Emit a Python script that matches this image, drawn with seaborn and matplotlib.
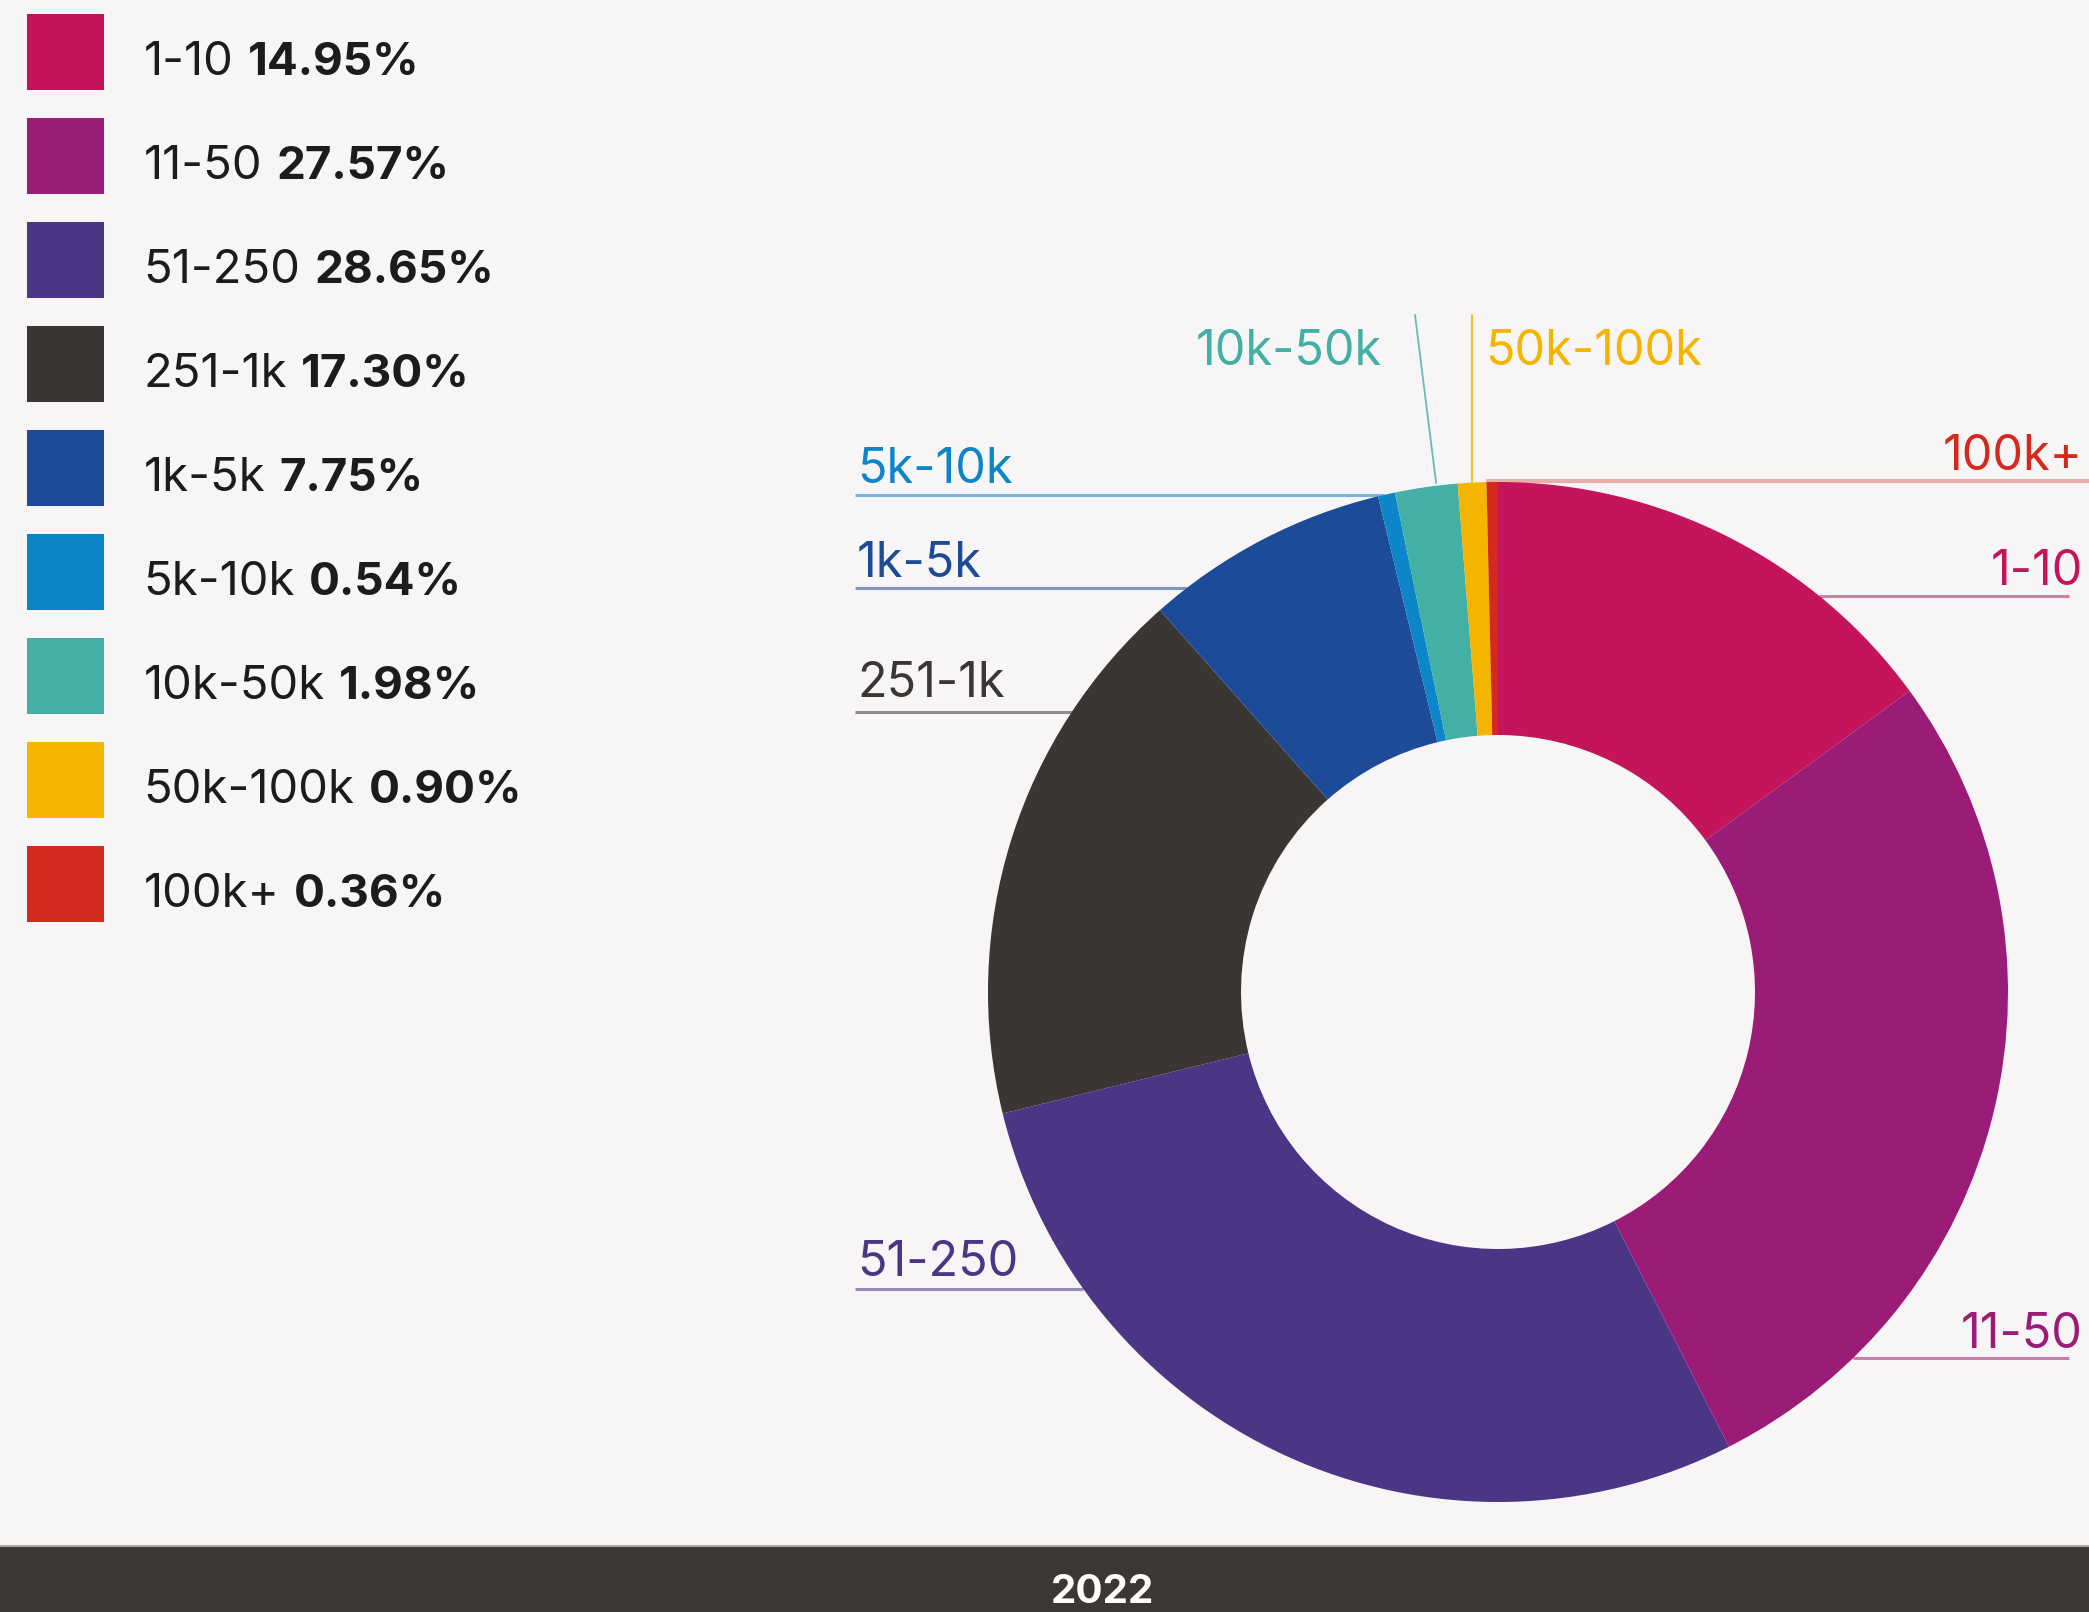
import matplotlib
matplotlib.use("Agg")
import numpy as np
import matplotlib.pyplot as plt
from matplotlib.patches import Rectangle
import seaborn as sns

# ---- data -----------------------------------------------------------------
categories = ["1-10", "11-50", "51-250", "251-1k", "1k-5k",
              "5k-10k", "10k-50k", "50k-100k", "100k+"]
shares = [14.95, 27.57, 28.65, 17.30, 7.75, 0.54, 1.98, 0.90, 0.36]
year_label = "2022"

slice_colors = ["#c4145c", "#9b1c77", "#4b3585", "#3a3633", "#1d4b97",
                "#0d86c9", "#43afa5", "#f4b400", "#d42a1e"]

# ---- style ----------------------------------------------------------------
sns.set_theme(style="white")
plt.rcParams["font.family"] = ["Inter", "DejaVu Sans"]
palette = sns.color_palette(slice_colors)

BG = "#f7f5f6"
INK = "#1e1b1c"
W, H = 2089, 1612
FS = 35          # ring labels
FS_LEG = 34      # legend range text
FS_LEG_B = 33    # legend share text (bold)

fig = plt.figure(figsize=(W / 100, H / 100), dpi=100, facecolor=BG)
ax = fig.add_axes([0, 0, 1, 1])
ax.set_facecolor(BG)


def yu(y_down):
    """Convert a top-down pixel row into the upward axis coordinate."""
    return H - y_down


# ---- donut ----------------------------------------------------------------
CX, CY = 1498, yu(992)
R_OUT, R_IN = 510, 257
wedges, _ = ax.pie(shares, colors=palette, startangle=90, counterclock=False,
                   center=(CX, CY), radius=R_OUT,
                   wedgeprops=dict(width=R_OUT - R_IN, linewidth=0))
ax.set_xlim(0, W)
ax.set_ylim(0, H)
ax.set_aspect("equal")
ax.axis("off")


def circle_x(y_up, side):
    dy = y_up - CY
    dx = np.sqrt(max(R_OUT ** 2 - dy ** 2, 0.0))
    return CX - dx if side == "left" else CX + dx


def wedge_point(idx):
    w = wedges[idx]
    mid = np.deg2rad((w.theta1 + w.theta2) / 2)
    return CX + R_OUT * np.cos(mid), CY + R_OUT * np.sin(mid)


LW = 2.2
LALPHA = 0.55

# horizontal leaders: (category, side, text baseline row, leader row, outer x)
horizontal = [
    ("5k-10k", "left", 483, 495, 857),
    ("1k-5k", "left", 577, 588, 857),
    ("251-1k", "left", 697, 712, 857),
    ("51-250", "left", 1276, 1289, 857),
    ("1-10", "right", 585, 596, 2083),
    ("11-50", "right", 1348, 1358, 2083),
]
for cat, side, base, row, xo in horizontal:
    i = categories.index(cat)
    c = slice_colors[i]
    yl = yu(row)
    xc = circle_x(yl, side)
    if side == "left":
        ax.plot([xo - 2, xc], [yl, yl], color=c, alpha=LALPHA, lw=LW,
                solid_capstyle="butt", zorder=1)
        ax.text(xo, yu(base), cat, color=c, fontsize=FS, ha="left",
                va="baseline")
    else:
        ax.plot([xc, xo - 14], [yl, yl], color=c, alpha=LALPHA, lw=LW,
                solid_capstyle="butt", zorder=1)
        ax.text(xo, yu(base), cat, color=c, fontsize=FS, ha="right",
                va="baseline")

# 100k+ leader runs along the top of the ring out to the right edge
i = categories.index("100k+")
px, py = wedge_point(i)
ax.plot([px - 6, W], [py + 1, py + 1], color=slice_colors[i], alpha=0.35,
        lw=3, solid_capstyle="butt", zorder=1)
ax.text(2083, yu(470), "100k+", color=slice_colors[i], fontsize=FS,
        ha="right", va="baseline")

# 10k-50k: slanted leader from above
i = categories.index("10k-50k")
px, py = wedge_point(i)
ax.plot([1415, px + 10], [yu(315), py + 4], color=slice_colors[i],
        alpha=0.8, lw=1.3, zorder=1)
ax.text(1382, yu(365), "10k-50k", color=slice_colors[i], fontsize=FS,
        ha="right", va="baseline")

# 50k-100k: vertical leader from above
i = categories.index("50k-100k")
px, py = wedge_point(i)
ax.plot([px, px], [yu(315), py], color=slice_colors[i], alpha=0.8, lw=1.6,
        zorder=1)
ax.text(px + 13, yu(365), "50k-100k", color=slice_colors[i], fontsize=FS,
        ha="left", va="baseline")

# ---- legend (colour squares + range + bold share) -------------------------
renderer = fig.canvas.get_renderer()
SQ_X, SQ_W, SQ_H = 27, 77, 76
TOP0, PITCH = 14, 104
TEXT_X = 143.5
for k, (cat, val, col) in enumerate(zip(categories, shares, slice_colors)):
    top = TOP0 + PITCH * k
    ax.add_patch(Rectangle((SQ_X, yu(top + SQ_H)), SQ_W, SQ_H,
                           facecolor=col, edgecolor="none"))
    t = ax.text(TEXT_X, yu(top + 61), cat, color=INK, fontsize=FS_LEG,
                ha="left", va="baseline")
    bb = t.get_window_extent(renderer=renderer)
    ax.text(bb.x1 + 14, yu(top + 61), f"{val:.2f}%", color=INK,
            fontsize=FS_LEG_B, fontweight="bold", ha="left", va="baseline")

# ---- footer bar -----------------------------------------------------------
ax.add_patch(Rectangle((0, 0), W, yu(1546), facecolor="#3b3735",
                       edgecolor="none", zorder=3))
ax.plot([0, W], [yu(1546), yu(1546)], color="#a9a5a3", lw=1.5, zorder=4)
ax.text(1103, yu(1603), year_label, color="white", fontsize=29,
        fontweight="bold", ha="center", va="baseline", zorder=5)

fig.savefig("out.png", dpi=100, facecolor=BG)
